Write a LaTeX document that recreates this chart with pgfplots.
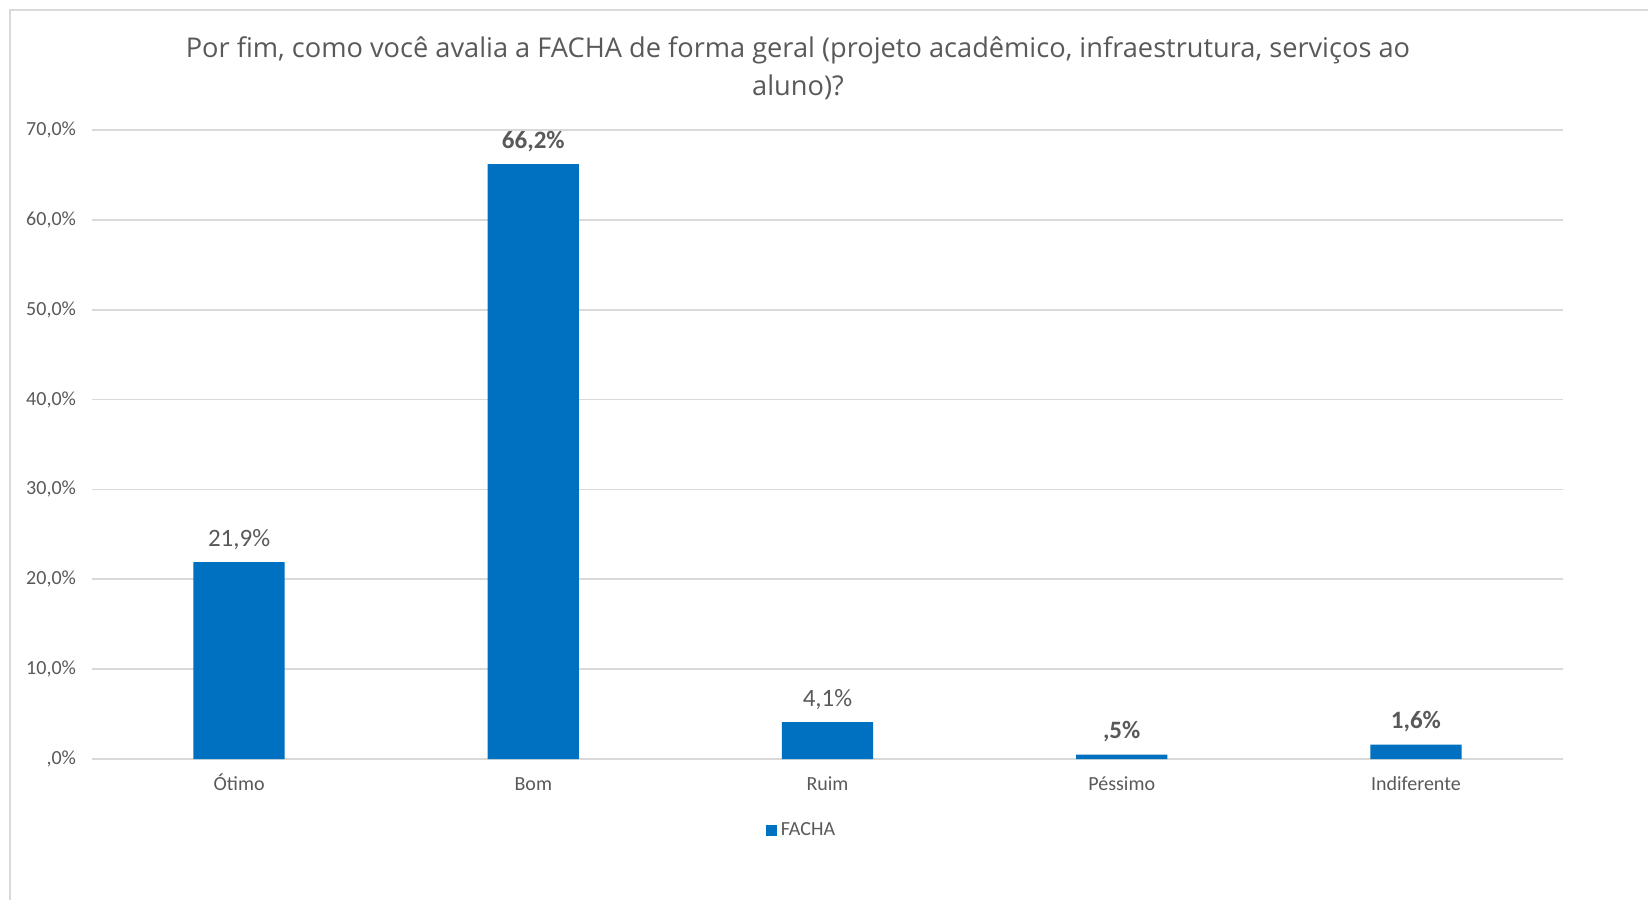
\documentclass[border=0pt]{standalone}
\usepackage{pgfplots}
\pgfplotsset{compat=1.18}
\usepackage{fontspec}
\setmainfont{Carlito}
\newfontfamily\titlefont{Open Sans}
\definecolor{barblue}{HTML}{0070C0}
\definecolor{txtgray}{HTML}{595959}
\definecolor{gridgray}{HTML}{D9D9D9}
\begin{document}
\begin{tikzpicture}
\path[use as bounding box] (0,0) rectangle (824pt,450pt);
% chart frame (only top and left edges are inside the picture)
\draw[gridgray, line width=0.8pt] (5pt,0) -- (5pt,445pt) -- (824pt,445pt);
% title
\node[txtgray, font=\titlefont\fontsize{13.6}{16}\selectfont] at (399pt,425pt) {Por fim, como você avalia a FACHA de forma geral (projeto acadêmico, infraestrutura, serviços ao};
\node[txtgray, font=\titlefont\fontsize{13.6}{16}\selectfont] at (399pt,406.5pt) {aluno)?};
\begin{axis}[
    at={(46pt,70.5pt)},
    anchor=south west,
    scale only axis,
    width=735.5pt,
    height=314.5pt,
    xmin=-0.5, xmax=4.5,
    ymin=0, ymax=70,
    ybar,
    bar width=0.31,
    xtick=data,
    xticklabels={Ótimo, Bom, Ruim, Péssimo, Indiferente},
    ytick={0,10,...,70},
    yticklabels={{,0\%},{10,0\%},{20,0\%},{30,0\%},{40,0\%},{50,0\%},{60,0\%},{70,0\%}},
    /pgf/number format/assume math mode=true,
    ymajorgrids,
    grid style={gridgray, line width=0.8pt},
    axis line style={draw=none},
    tick style={draw=none},
    tick label style={txtgray, font=\fontsize{10}{12}\selectfont},
    yticklabel style={xshift=-4.5pt},
    xticklabel style={anchor=base, inner sep=0pt, yshift=-11.5pt},
    nodes near coords={\pgfplotspointmeta},
    point meta=explicit symbolic,
    every node near coord/.append style={txtgray, font=\fontsize{12.5}{14}\selectfont, anchor=base, inner sep=0pt, yshift=8pt},
    legend style={at={(0.483,-0.113)}, anchor=center, draw=none, fill=none,
        font=\fontsize{10}{12}\selectfont, text=txtgray, inner sep=0pt},
    legend image code/.code={\fill[barblue] (0pt,-2.75pt) rectangle (5.5pt,2.75pt);},
    legend cell align=left,
]
\addplot[fill=barblue, draw=none] coordinates {
    (0,21.9) [21,9\%]
    (1,66.2) [\textbf{66,2\%}]
    (2,4.1) [4,1\%]
    (3,0.5) [\textbf{,5\%}]
    (4,1.6) [\textbf{1,6\%}]
};
\addlegendentry{FACHA}
\end{axis}
\end{tikzpicture}
\end{document}
